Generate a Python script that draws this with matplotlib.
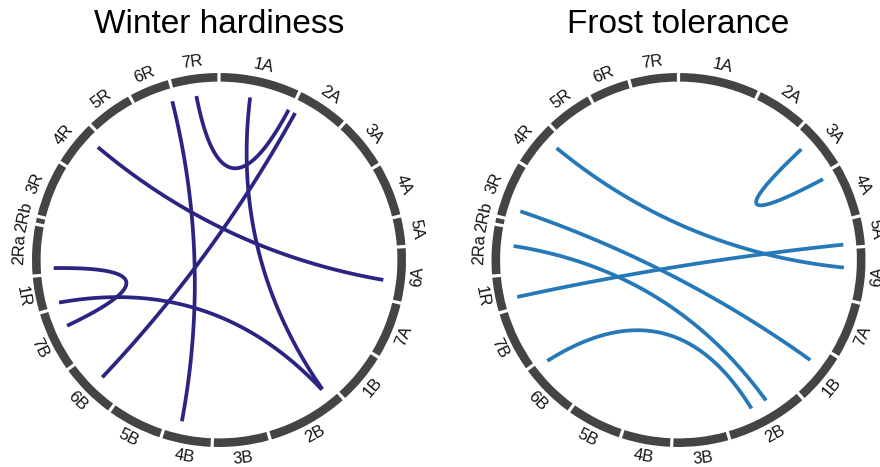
import numpy as np
import matplotlib.pyplot as plt
from matplotlib.patches import Wedge

plt.rcParams['font.family'] = ['Liberation Sans', 'DejaVu Sans']

# Chromosomes, clockwise from the top, with their relative lengths
chroms = ['1A', '2A', '3A', '4A', '5A', '6A', '7A',
          '1B', '2B', '3B', '4B', '5B', '6B', '7B',
          '1R', '2Ra', '2Rb', '3R', '4R', '5R', '6R', '7R']
lengths = [24.6, 15.8, 15.7, 16.2, 8.5, 16.5, 17.0,
           15.7, 25.0, 17.0, 15.0, 16.8, 17.2, 18.4,
           10.5, 15.0, 1.5, 17.0, 13.8, 14.0, 12.2, 14.4]

# Links: chromosome + relative position (0-1) along it
wh_from = ['4R', '7R', '1A', '6R', '2A', '2Ra', '1R']
wh_from_pos = [0.79, 0.49, 0.42, 0.96, 0.08, 0.11, 0.10]
wh_to = ['6A', '1A', '2B', '4B', '6B', '7B', '2B']
wh_to_pos = [0.64, 0.99, 0.11, 0.69, 0.49, 0.65, 0.12]

ft_from = ['4R', '3A', '3R', '2Ra', '1R', '6B']
ft_from_pos = [0.76, 0.32, 0.18, 0.62, 0.29, 0.93]
ft_to = ['6A', '4A', '1B', '2B', '5A', '2B']
ft_to_pos = [0.38, 0.07, 0.34, 0.38, 0.92, 0.61]

# layout of the ring (degrees clockwise from the top)
gap = 1.0
scale = (360 - gap * len(chroms)) / sum(lengths)
starts = {}
spans = {}
a = gap / 2
for c, L in zip(chroms, lengths):
    starts[c] = a
    spans[c] = L * scale
    a += L * scale + gap


def angle(c, p):
    return starts[c] + p * spans[c]


def xy(theta, r):
    t = np.radians(theta)
    return r * np.sin(t), r * np.cos(t)


def chord_diagram(ax, title, src, src_pos, dst, dst_pos, color):
    ring_out = 1.0
    ring_w = 0.046
    r_link = 0.885
    for c in chroms:
        a0 = starts[c]
        a1 = a0 + spans[c]
        ax.add_patch(Wedge((0, 0), ring_out, 90 - a1, 90 - a0, width=ring_w,
                           facecolor='#444444', edgecolor='none'))
        mid = (a0 + a1) / 2
        if 90 < mid < 270:
            rot = 180 - mid
        else:
            rot = -mid
        lx, ly = xy(mid, 1.066)
        ax.text(lx, ly, c, rotation=rot, rotation_mode='anchor',
                ha='center', va='center', fontsize=12, color='#111111')

    t = np.linspace(0, 1, 100)[:, None]
    for c0, p0, c1, p1 in zip(src, src_pos, dst, dst_pos):
        P0 = np.array(xy(angle(c0, p0), r_link))
        P1 = np.array(xy(angle(c1, p1), r_link))
        C = 0.17 * (P0 + P1) / 2
        pts = (1 - t) ** 2 * P0 + 2 * (1 - t) * t * C + t ** 2 * P1
        ax.plot(pts[:, 0], pts[:, 1], color=color, lw=2.7,
                solid_capstyle='butt')

    ax.text(0, 1.212, title, ha='center', va='baseline', fontsize=24)
    ax.set_xlim(-1.3, 1.3)
    ax.set_ylim(-1.3, 1.3)
    ax.axis('off')


W, H = 880, 467
R = 187.0
half = 1.3 * R

fig = plt.figure(figsize=(8.8, 4.67), dpi=100)
for cx, title, s, sp, d, dp, col in [
        (219, 'Winter hardiness', wh_from, wh_from_pos, wh_to, wh_to_pos, '#2c2483'),
        (678.5, 'Frost tolerance', ft_from, ft_from_pos, ft_to, ft_to_pos, '#2679b8')]:
    cy = 260
    ax = fig.add_axes([(cx - half) / W, (H - cy - half) / H, 2 * half / W, 2 * half / H])
    chord_diagram(ax, title, s, sp, d, dp, col)

fig.savefig('out.png', dpi=100)
